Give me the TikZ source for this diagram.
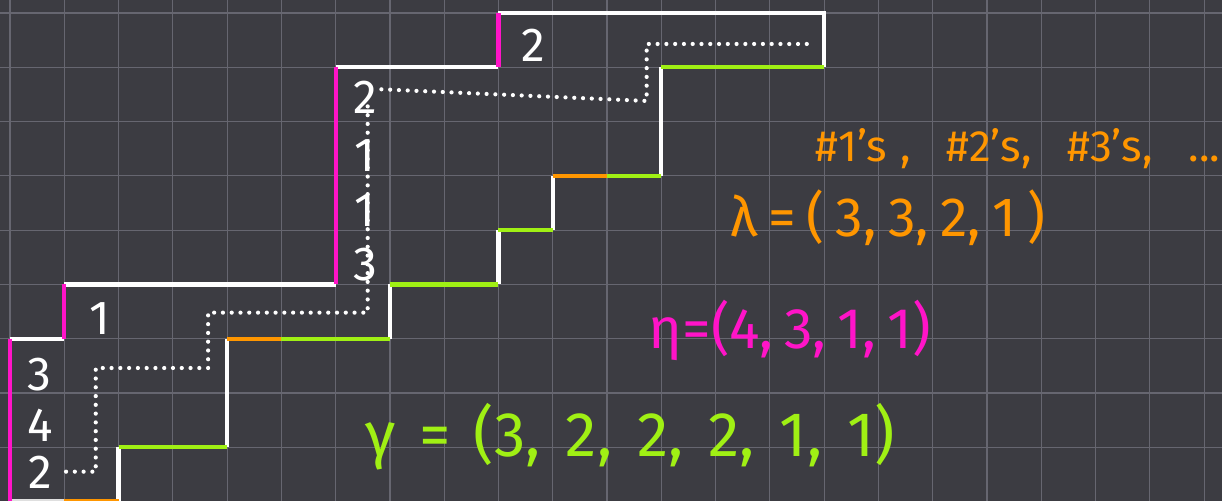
\documentclass[tikz,border=0pt]{standalone}
\usepackage{fontspec}
\setmainfont{Fira Sans}
\definecolor{bg}{RGB}{60,60,66}
\definecolor{gridc}{RGB}{102,102,112}
\definecolor{mag}{RGB}{255,20,200}
\definecolor{org}{RGB}{255,150,0}
\definecolor{grn}{RGB}{160,240,20}
\begin{document}
\begin{tikzpicture}[x=1cm,y=-1cm,
  wline/.style={white,line width=2.2pt},
  mline/.style={mag,line width=2.2pt},
  oline/.style={org,line width=2.2pt},
  gline/.style={grn,line width=2.2pt},
  dots/.style={white,line width=2.2pt,dash pattern=on 0pt off 4.6pt,line cap=round},
  num/.style={white,font=\fontsize{25}{27}\selectfont,inner sep=0pt},
  lbl/.style={anchor=west,inner sep=0pt},
]
\fill[bg] (-0.184,-0.24) rectangle (22.33,8.99);
\useasboundingbox (-0.184,-0.24) rectangle (22.33,8.99);
\foreach \i in {0,...,22} \draw[gridc,line width=0.6pt] (\i,-0.24) -- (\i,8.99);
\foreach \j in {0,...,8} \draw[gridc,line width=0.6pt] (-0.184,\j) -- (22.33,\j);

% white staircase parts
\draw[wline] (0,6) -- (1,6);
\draw[wline] (1,5) -- (6,5);
\draw[wline] (6,1) -- (9,1);
\draw[wline] (9,0) -- (15,0) -- (15,1);
\draw[wline] (12,1) -- (12,3);
\draw[wline] (10,3) -- (10,4);
\draw[wline] (9,4) -- (9,5);
\draw[wline] (7,5) -- (7,6);
\draw[wline] (4,6) -- (4,8);
\draw[wline] (2,8) -- (2,9);
\draw[white!75!gray,line width=2.2pt] (0,9) -- (1,9);
% green
\draw[gline] (12,1) -- (15,1);
\draw[gline] (11,3) -- (12,3);
\draw[gline] (9,4) -- (10,4);
\draw[gline] (7,5) -- (9,5);
\draw[gline] (5,6) -- (7,6);
\draw[gline] (2,8) -- (4,8);
% orange
\draw[oline] (10,3) -- (11,3);
\draw[oline] (4,6) -- (5,6);
\draw[oline] (1,9) -- (2,9);
% magenta
\draw[mline] (0,6) -- (0,9.2);
\draw[mline] (1,5) -- (1,6);
\draw[mline] (6,1) -- (6,5);
\draw[mline] (9,0) -- (9,1);

% dotted path
\coordinate (d0) at (14.68,0.57);
\coordinate (d1) at (11.73,0.57);
\coordinate (d2) at (11.73,1.62);
\coordinate (d3) at (6.72,1.40);
\coordinate (d4) at (6.59,1.72);
\coordinate (d5) at (6.59,5.52);
\coordinate (d6) at (3.65,5.52);
\coordinate (d7) at (3.65,6.54);
\coordinate (d8) at (1.58,6.54);
\coordinate (d9) at (1.58,8.45);
\coordinate (d10) at (0.96,8.45);
\draw[dots] (d0) -- (d1) -- (d2) -- (d3);
\draw[dots] (d4) -- (d5) -- (d6) -- (d7) -- (d8) -- (d9) -- (d10);

% numbers
\node[num] (a1) at (9.64,0.59) {2};
\node[num] (b1) at (6.54,1.55) {2};
\node[num] (b2) at (6.54,2.62) {1};
\node[num] (b3) at (6.54,3.63) {1};
\node[num] (b4) at (6.54,4.64) {3};
\node[num] (c1) at (1.66,5.62) {1};
\node[num] (e1) at (0.55,6.67) {3};
\node[num] (e2) at (0.55,7.59) {4};
\node[num] (e3) at (0.55,8.46) {2};

% labels
\node[lbl,org,font=\fontsize{23}{25}\selectfont] (cnt) at (14.83,2.49)
  {\makebox[7.46cm][s]{\#1’s\hspace{0.3em}, \#2’s, \#3’s, ...}};
\node[lbl,org,font=\fontsize{29}{31}\selectfont] (lam) at (13.27,3.78)
  {\makebox[5.8cm][s]{λ = ( 3, 3, 2, 1 )}};
\node[lbl,mag,font=\fontsize{30}{32}\selectfont] (eta) at (11.76,5.84)
  {\makebox[5.1cm][s]{η=(4, 3, 1, 1)}};
\node[lbl,grn,font=\fontsize{33}{35}\selectfont] (gam) at (6.54,7.81)
  {\makebox[9.76cm][s]{γ = (3, 2, 2, 2, 1, 1)}};
\end{tikzpicture}
\end{document}
